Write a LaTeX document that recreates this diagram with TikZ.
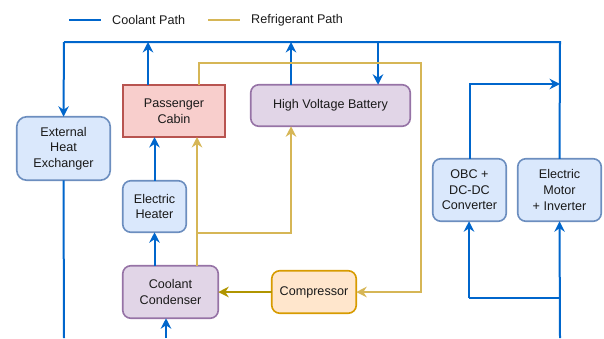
\documentclass[tikz,border=0pt]{standalone}
\usepackage{fontspec}
\setmainfont{Liberation Sans}
\usetikzlibrary{arrows.meta,calc}
\definecolor{cblue}{HTML}{0066CC}
\definecolor{cyel}{HTML}{D6B656}
\definecolor{colive}{HTML}{B09500}
\definecolor{bfill}{HTML}{DAE8FC}
\definecolor{bline}{HTML}{6C8EBF}
\definecolor{rfill}{HTML}{F8CECC}
\definecolor{rline}{HTML}{B85450}
\definecolor{pfill}{HTML}{E1D5E7}
\definecolor{pline}{HTML}{9673A6}
\definecolor{ofill}{HTML}{FFE6CC}
\definecolor{oline}{HTML}{D79B00}
\definecolor{txt}{HTML}{1A1A1A}
\tikzset{
  box/.style={draw, line width=1.6pt, rounded corners=8pt, align=center, inner sep=0pt, outer sep=0pt,
    text=txt, font=\fontsize{12.6}{15.6}\selectfont},
  bluebox/.style={box, fill=bfill, draw=bline},
  redbox/.style={box, fill=rfill, draw=rline, rounded corners=0pt},
  purplebox/.style={box, fill=pfill, draw=pline},
  orangebox/.style={box, fill=ofill, draw=oline},
  tipk/.tip={Stealth[length=10.5pt,width=10.5pt,inset=3.5pt]},
  cool/.style={draw=cblue, line width=2pt},
  refr/.style={draw=cyel, line width=2pt},
  refd/.style={draw=colive, line width=2pt},
  lbl/.style={font=\fontsize{12.6}{15.6}\selectfont, text=txt, anchor=west, inner sep=0pt}
}
\begin{document}
\begin{tikzpicture}[x=1pt,y=-1pt]
\useasboundingbox (0,0) rectangle (604,338);
% legend
\coordinate (l1a) at (69,20); \coordinate (l1b) at (101,20);
\coordinate (l2a) at (208,20); \coordinate (l2b) at (240,20);
\draw[cool] (l1a) -- (l1b);
\node[lbl] (lt1) at (112,20) {Coolant Path};
\draw[refr] (l2a) -- (l2b);
\node[lbl] (lt2) at (251,20) {Refrigerant Path};
% nodes
\node[bluebox, minimum width=93.5pt, minimum height=63.5pt, rounded corners=10pt] (ehe) at (63.5,148.5) {External\\Heat\\Exchanger};
\node[redbox, minimum width=102pt, minimum height=52pt] (cab) at (174,111) {Passenger\\Cabin};
\node[purplebox, minimum width=159.5pt, minimum height=41.5pt] (hvb) at (330.5,105.5) {High Voltage Battery};
\node[bluebox, minimum width=63.5pt, minimum height=51.5pt] (heat) at (154.5,206.5) {Electric\\Heater};
\node[purplebox, minimum width=95.5pt, minimum height=52.5pt] (cond) at (170.5,292) {Coolant\\Condenser};
\node[orangebox, minimum width=84.5pt, minimum height=42.5pt] (comp) at (314,292) {Compressor};
\node[bluebox, minimum width=73.5pt, minimum height=62.5pt] (obc) at (469.5,190) {OBC +\\DC-DC\\Converter};
\node[bluebox, minimum width=83.5pt, minimum height=62.5pt] (mot) at (559.5,190) {Electric\\Motor\\+ Inverter};
% coordinates
\coordinate (tl) at (64,42);
\coordinate (tr) at (560,42);
\coordinate (mj) at (560,84);
\coordinate (bj) at (469,298);
\coordinate (bm) at (560,338);
\coordinate (be) at (64,338);
\coordinate (bc) at (166,338);
\coordinate (ra) at (421,63);
\coordinate (rb) at (421,292);
\coordinate (rj) at (197,233);
% coolant
\draw[cool] (mot.north) -- (tr) -- (tl);
\draw[cool,-{tipk}] (tl) -- (ehe.north);
\draw[cool,-{tipk}] ([xshift=-26pt]cab.north) -- ([xshift=-26pt]cab.north |- tl);
\draw[cool,-{tipk}] ([xshift=-39.5pt]hvb.north) -- ([xshift=-39.5pt]hvb.north |- tl);
\draw[cool,-{tipk}] ([xshift=47.5pt]hvb.north |- tl) -- ([xshift=47.5pt]hvb.north);
\draw[cool,-{tipk}] (obc.north) |- (mj);
\draw[cool,-{tipk}] (heat.north) -- (heat.north |- cab.south);
\draw[cool,-{tipk}] (heat.south |- cond.north) -- (heat.south);
\draw[cool,-{tipk}] (bc) -- (bc |- cond.south);
\draw[cool] (ehe.south) -- (be);
\draw[cool,-{tipk}] (bj) -- (bj |- obc.south);
\draw[cool,-{tipk}] (bm) -- (mot.south);
\draw[cool] (bj) -- (bj -| bm);
% refrigerant
\draw[refr,-{tipk}] ([xshift=25pt]cab.north) |- (ra) -- (rb) -- (comp.east);
\draw[refd,-{tipk}] (comp.west) -- (cond.east);
\draw[refr,-{tipk}] (rj |- cond.north) -- (rj |- cab.south);
\draw[refr,-{tipk}] (rj) -| ([xshift=-39.5pt]hvb.south);
\end{tikzpicture}
\end{document}
